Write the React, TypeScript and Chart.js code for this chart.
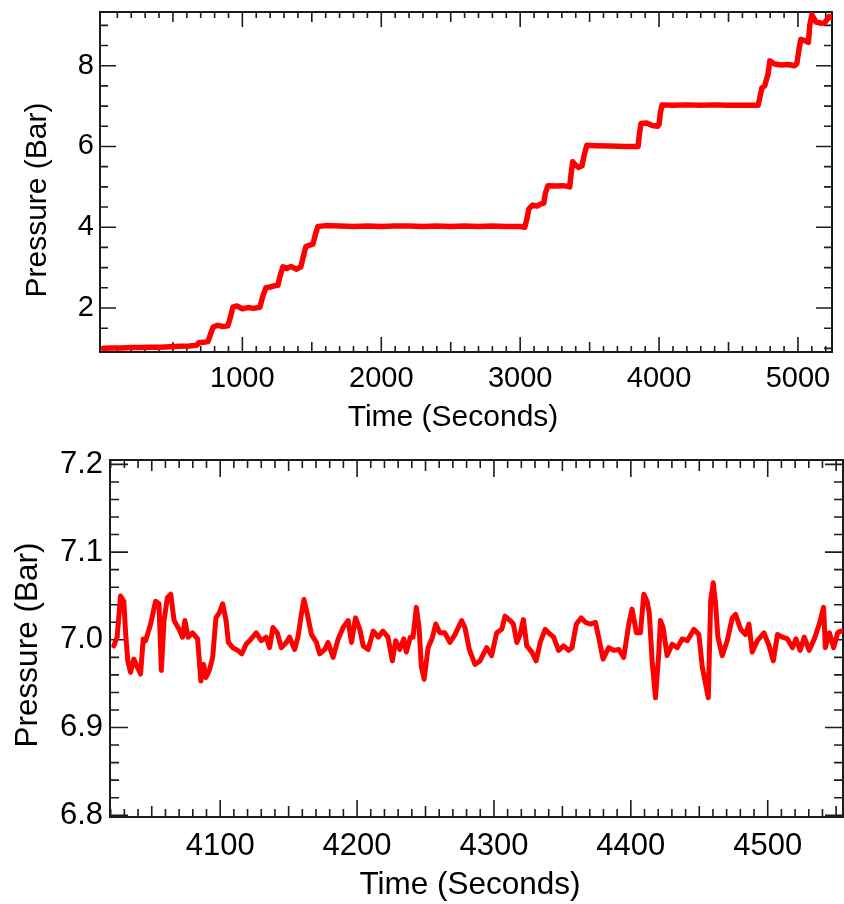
import React, { useEffect, useRef } from "react";
import { Chart, registerables } from "chart.js";

Chart.register(...registerables);

// ---------- Top chart data (Time in seconds, Pressure in Bar) ----------
const topTime = [
  0, 60, 130, 200, 270, 340, 410, 480, 550, 620,
  673, 685, 720, 752, 768, 788, 820, 860, 896, 912,
  932, 960, 1000, 1040, 1080, 1126, 1148, 1170, 1200, 1230,
  1256, 1272, 1292, 1320, 1350, 1390, 1421, 1437, 1457, 1480,
  1508, 1524, 1544, 1600, 1700, 1800, 1900, 2000, 2100, 2200,
  2300, 2400, 2500, 2600, 2700, 2800, 2900, 3000, 3033, 3048,
  3062, 3090, 3120, 3150, 3170, 3182, 3200, 3260, 3310, 3357,
  3366, 3378, 3395, 3420, 3445, 3462, 3480, 3550, 3650, 3750,
  3849, 3858, 3870, 3910, 3950, 3990, 4000, 4010, 4022, 4100,
  4200, 4300, 4400, 4500, 4600, 4713, 4725, 4740, 4760, 4785,
  4797, 4830, 4880, 4930, 4975, 4992, 5005, 5020, 5050, 5075,
  5085, 5100, 5130, 5170, 5194, 5210, 5225, 5238,
];
const topPressure = [
  1.0, 1.01, 1.01, 1.02, 1.02, 1.03, 1.03, 1.04, 1.05, 1.06,
  1.08, 1.14, 1.15, 1.17, 1.32, 1.52, 1.57, 1.54, 1.56, 1.75,
  2.02, 2.05, 1.98, 2.01, 1.99, 2.02, 2.3, 2.5, 2.52, 2.55,
  2.56, 2.8, 3.02, 2.98, 3.03, 2.96, 3.02, 3.25, 3.52, 3.55,
  3.58, 3.8, 4.02, 4.04, 4.03, 4.02, 4.03, 4.02, 4.03, 4.03,
  4.02, 4.03, 4.02, 4.03, 4.02, 4.03, 4.02, 4.02, 4.0, 4.2,
  4.45, 4.55, 4.52, 4.58, 4.6, 4.85, 5.03, 5.02, 5.03, 5.0,
  5.3, 5.62, 5.55, 5.48, 5.52, 5.8, 6.03, 6.02, 6.01, 6.0,
  6.0, 6.3, 6.57, 6.58, 6.52, 6.5, 6.55, 6.85, 7.03, 7.02,
  7.03, 7.02, 7.03, 7.02, 7.02, 7.02, 7.2, 7.45, 7.5, 7.8,
  8.12, 8.04, 8.02, 8.03, 8.0, 8.05, 8.35, 8.65, 8.62, 8.58,
  9.0, 9.26, 9.08, 9.05, 9.07, 9.15, 9.22, 9.2,
];

// ---------- Bottom chart data (zoom on the 7 Bar plateau) ----------
const bottomTime = [
  4022.3, 4024.7, 4027.2, 4029.6, 4030.8, 4032.5, 4034.5, 4036.9, 4039.4, 4041.8,
  4043.8, 4045.5, 4049.2, 4052.8, 4055.3, 4057.0, 4059.0, 4061.4, 4063.9, 4066.3,
  4070.0, 4072.5, 4074.2, 4076.6, 4079.8, 4083.5, 4085.9, 4087.9, 4089.6, 4092.0,
  4094.5, 4096.9, 4099.4, 4101.8, 4104.3, 4106.0, 4109.2, 4112.8, 4115.8, 4118.9,
  4122.6, 4126.3, 4130.0, 4133.6, 4136.1, 4138.5, 4141.7, 4144.6, 4148.3, 4150.7,
  4154.4, 4156.8, 4159.3, 4161.2, 4163.7, 4166.7, 4170.3, 4172.7, 4176.4, 4178.8,
  4182.5, 4186.2, 4189.8, 4193.5, 4195.9, 4198.9, 4202.0, 4204.5, 4208.1, 4211.8,
  4215.5, 4218.9, 4222.6, 4225.8, 4228.2, 4231.2, 4234.1, 4236.0, 4238.9, 4240.9,
  4243.3, 4245.3, 4247.0, 4249.0, 4251.9, 4255.1, 4257.5, 4260.5, 4264.1, 4267.8,
  4271.5, 4276.4, 4278.8, 4282.0, 4286.1, 4289.8, 4294.7, 4298.3, 4302.0, 4305.7,
  4308.1, 4311.8, 4314.2, 4316.7, 4319.1, 4321.5, 4324.0, 4327.7, 4330.8, 4333.8,
  4337.4, 4339.9, 4343.6, 4347.2, 4350.9, 4354.6, 4357.0, 4360.2, 4363.6, 4366.8,
  4370.4, 4374.1, 4376.5, 4379.7, 4383.8, 4387.5, 4391.2, 4394.8, 4398.5, 4400.9,
  4404.1, 4407.0, 4409.5, 4411.9, 4413.5, 4415.6, 4418.0, 4420.4, 4421.6, 4423.6,
  4426.5, 4430.2, 4433.9, 4437.5, 4441.2, 4446.1, 4449.7, 4452.2, 4454.6, 4456.6,
  4458.3, 4460.2, 4461.9, 4463.6, 4466.8, 4470.4, 4474.1, 4476.5, 4480.2, 4483.8,
  4486.3, 4488.7, 4492.4, 4497.3, 4501.0, 4504.1, 4507.1, 4510.8, 4514.4, 4518.1,
  4520.6, 4523.7, 4526.7, 4530.3, 4534.0, 4537.7, 4540.8, 4542.1, 4545.0, 4548.2,
  4551.1, 4553.5,
];
const bottomPressure = [
  6.993, 7.003, 7.05, 7.044, 7.01, 6.976, 6.963, 6.978, 6.969, 6.961,
  7.001, 6.999, 7.018, 7.044, 7.041, 6.965, 7.022, 7.048, 7.052, 7.022,
  7.012, 7.003, 7.022, 7.003, 7.008, 7.001, 6.953, 6.972, 6.957, 6.965,
  6.98, 7.025, 7.031, 7.041, 7.022, 6.997, 6.991, 6.988, 6.984, 6.995,
  7.001, 7.008, 6.999, 7.003, 6.991, 7.014, 7.008, 6.991, 6.997, 7.003,
  6.989, 7.003, 7.029, 7.046, 7.029, 7.006, 6.997, 6.984, 6.989, 6.997,
  6.98, 7.001, 7.014, 7.022, 6.997, 7.025, 7.012, 6.993, 6.989, 7.01,
  7.003, 7.01, 7.003, 6.976, 6.999, 6.989, 7.001, 6.986, 7.003, 7.003,
  7.037, 7.014, 6.969, 6.955, 6.991, 7.003, 7.018, 7.008, 7.008, 6.997,
  7.006, 7.022, 7.014, 6.989, 6.972, 6.976, 6.991, 6.982, 7.008, 7.012,
  7.027, 7.022, 7.018, 6.997, 7.006, 7.023, 6.993, 6.986, 6.976, 6.997,
  7.012, 7.008, 7.003, 6.988, 6.993, 6.988, 6.991, 7.018, 7.025, 7.02,
  7.018, 7.02, 7.003, 6.978, 6.991, 6.988, 6.989, 6.98, 7.018, 7.035,
  7.008, 7.008, 7.052, 7.044, 7.03, 6.975, 6.934, 6.984, 7.022, 7.014,
  6.982, 6.995, 6.991, 7.001, 6.999, 7.012, 7.006, 6.969, 6.95, 6.934,
  7.044, 7.065, 7.041, 7.003, 6.982, 6.999, 7.025, 7.029, 7.012, 7.006,
  7.018, 6.986, 6.999, 7.008, 6.993, 6.976, 7.006, 7.003, 7.001, 6.991,
  7.001, 6.988, 7.003, 6.988, 7.001, 7.018, 7.037, 6.991, 7.008, 6.991,
  7.008, 7.01,
];

// ---------- Tick labels ----------
const topXLabels = [1000, 2000, 3000, 4000, 5000];
const topYLabels = [2, 4, 6, 8];
const bottomXLabels = [4100, 4200, 4300, 4400, 4500];
const bottomYLabels = [6.8, 6.9, 7.0, 7.1, 7.2];

const X_TITLE = "Time (Seconds)";
const Y_TITLE = "Pressure (Bar)";

const FONT = "'Liberation Sans', Arial, Helvetica, sans-serif";

type TickSpec = {
  from: number;
  to: number;
  step: number;
  major: number;
  medium: number;
  lens: [number, number, number];
};

type TitleSpec = {
  xTitleX: number; // centre of x-axis title (canvas coords)
  xTitleY: number;
  yTitleX: number; // centre of y-axis title (canvas coords)
  yTitleY: number;
  size: number;
};

const isMult = (v: number, m: number) => Math.abs(v / m - Math.round(v / m)) < 1e-6;

function frameTicksPlugin(xs: TickSpec, ys: TickSpec, ts: TitleSpec) {
  return {
    id: "frameTicks",
    beforeDatasetsDraw(chart: any) {
      const { ctx, chartArea: a, scales } = chart;
      const sx = scales.x;
      const sy = scales.y;
      const lenFor = (v: number, s: TickSpec) =>
        isMult(v, s.major) ? s.lens[0] : s.medium && isMult(v, s.medium) ? s.lens[1] : s.lens[2];
      ctx.save();
      ctx.strokeStyle = "#1c1c1c";
      ctx.lineWidth = 1.6;
      ctx.beginPath();
      const nx = Math.round((xs.to - xs.from) / xs.step);
      for (let i = 0; i <= nx; i++) {
        const v = xs.from + i * xs.step;
        const p = sx.getPixelForValue(v);
        const L = lenFor(v, xs);
        ctx.moveTo(p, a.bottom);
        ctx.lineTo(p, a.bottom - L);
        ctx.moveTo(p, a.top);
        ctx.lineTo(p, a.top + L);
      }
      const ny = Math.round((ys.to - ys.from) / ys.step);
      for (let i = 0; i <= ny; i++) {
        const v = ys.from + i * ys.step;
        const p = sy.getPixelForValue(v);
        const L = lenFor(v, ys);
        ctx.moveTo(a.left, p);
        ctx.lineTo(a.left + L, p);
        ctx.moveTo(a.right, p);
        ctx.lineTo(a.right - L, p);
      }
      ctx.stroke();
      ctx.lineWidth = 2;
      ctx.strokeRect(a.left, a.top, a.right - a.left, a.bottom - a.top);
      ctx.restore();
    },
    afterDraw(chart: any) {
      const { ctx } = chart;
      ctx.save();
      ctx.fillStyle = "#000";
      ctx.font = `${ts.size}px ${FONT}`;
      ctx.textAlign = "center";
      ctx.textBaseline = "middle";
      ctx.fillText(X_TITLE, ts.xTitleX, ts.xTitleY);
      ctx.translate(ts.yTitleX, ts.yTitleY);
      ctx.rotate(-Math.PI / 2);
      ctx.fillText(Y_TITLE, 0, 0);
      ctx.restore();
    },
  };
}

type ChartSpec = {
  time: number[];
  pressure: number[];
  xMin: number;
  xMax: number;
  yMin: number;
  yMax: number;
  xLabels: number[];
  yLabels: number[];
  yFmt: (v: number) => string;
  padding: { top: number; right: number; left: number; bottom: number };
  yWidth: number;
  xHeight: number;
  xTickPad: number;
  yTickPad: number;
  tickSize: number;
  lineWidth: number;
  xTicks: TickSpec;
  yTicks: TickSpec;
  titles: TitleSpec;
};

function buildConfig(s: ChartSpec): any {
  return {
    type: "line",
    data: {
      datasets: [
        {
          data: s.time.map((t, i) => ({ x: t, y: s.pressure[i] })),
          borderColor: "#ff0000",
          backgroundColor: "#ff0000",
          borderWidth: s.lineWidth,
          pointRadius: 0,
          tension: 0,
          fill: false,
          borderJoinStyle: "round",
          borderCapStyle: "round",
        },
      ],
    },
    options: {
      animation: false,
      responsive: false,
      devicePixelRatio: 1,
      layout: { padding: s.padding },
      plugins: { legend: { display: false }, tooltip: { enabled: false } },
      scales: {
        x: {
          type: "linear",
          min: s.xMin,
          max: s.xMax,
          grid: { display: false, drawTicks: false },
          border: { display: false },
          afterBuildTicks: (sc: any) => {
            sc.ticks = s.xLabels.map((v) => ({ value: v }));
          },
          afterFit: (sc: any) => {
            sc.height = s.xHeight;
            sc.paddingLeft = 0;
            sc.paddingRight = 0;
            sc.paddingTop = 0;
            sc.paddingBottom = 0;
          },
          ticks: {
            autoSkip: false,
            maxRotation: 0,
            color: "#000",
            padding: s.xTickPad,
            font: { family: FONT, size: s.tickSize, lineHeight: 1.2 },
            callback: (v: any) => String(v),
          },
          title: { display: false },
        },
        y: {
          type: "linear",
          min: s.yMin,
          max: s.yMax,
          grid: { display: false, drawTicks: false },
          border: { display: false },
          afterBuildTicks: (sc: any) => {
            sc.ticks = s.yLabels.map((v) => ({ value: v }));
          },
          afterFit: (sc: any) => {
            sc.width = s.yWidth;
            sc.paddingLeft = 0;
            sc.paddingRight = 0;
            sc.paddingTop = 0;
            sc.paddingBottom = 0;
          },
          ticks: {
            autoSkip: false,
            color: "#000",
            padding: s.yTickPad,
            font: { family: FONT, size: s.tickSize, lineHeight: 1.2 },
            callback: (v: any) => s.yFmt(Number(v)),
          },
          title: { display: false },
        },
      },
    },
    plugins: [frameTicksPlugin(s.xTicks, s.yTicks, s.titles)],
  };
}

const topSpec: ChartSpec = {
  time: topTime,
  pressure: topPressure,
  xMin: -25,
  xMax: 5245,
  yMin: 0.91,
  yMax: 9.33,
  xLabels: topXLabels,
  yLabels: topYLabels,
  yFmt: (v) => String(v),
  padding: { top: 12, right: 12, left: 0, bottom: 0 },
  yWidth: 100,
  xHeight: 88,
  xTickPad: 10,
  yTickPad: 6,
  tickSize: 29,
  lineWidth: 5.5,
  xTicks: { from: 100, to: 5200, step: 100, major: 1000, medium: 500, lens: [15, 10, 6] },
  yTicks: { from: 1, to: 9, step: 0.5, major: 2, medium: 0, lens: [16, 8, 8] },
  titles: { xTitleX: 453, xTitleY: 418, yTitleX: 38, yTitleY: 200, size: 30 },
};

const bottomSpec: ChartSpec = {
  time: bottomTime,
  pressure: bottomPressure,
  xMin: 4019.5,
  xMax: 4555,
  yMin: 6.798,
  yMax: 7.205,
  xLabels: bottomXLabels,
  yLabels: bottomYLabels,
  yFmt: (v) => v.toFixed(1),
  padding: { top: 20, right: 1, left: 0, bottom: 0 },
  yWidth: 110,
  xHeight: 87,
  xTickPad: 10.5,
  yTickPad: 7,
  tickSize: 31,
  lineWidth: 5,
  xTicks: { from: 4020, to: 4550, step: 10, major: 100, medium: 50, lens: [17, 11, 8] },
  yTicks: { from: 6.8, to: 7.2, step: 0.02, major: 0.1, medium: 0, lens: [18, 9, 9] },
  titles: { xTitleX: 470, xTitleY: 445, yTitleX: 28, yTitleY: 205, size: 31.5 },
};

export default function App() {
  const topRef = useRef<HTMLCanvasElement>(null);
  const bottomRef = useRef<HTMLCanvasElement>(null);

  useEffect(() => {
    const c1 = new Chart(topRef.current as HTMLCanvasElement, buildConfig(topSpec));
    const c2 = new Chart(bottomRef.current as HTMLCanvasElement, buildConfig(bottomSpec));
    return () => {
      c1.destroy();
      c2.destroy();
    };
  }, []);

  return (
    <div
      style={{
        position: "absolute",
        left: 0,
        top: 0,
        width: 844,
        height: 904,
        background: "#ffffff",
      }}
    >
      <canvas
        ref={topRef}
        width={844}
        height={440}
        style={{ position: "absolute", left: 0, top: 0, width: 844, height: 440 }}
      />
      <canvas
        ref={bottomRef}
        width={844}
        height={464}
        style={{ position: "absolute", left: 0, top: 440, width: 844, height: 464 }}
      />
    </div>
  );
}
